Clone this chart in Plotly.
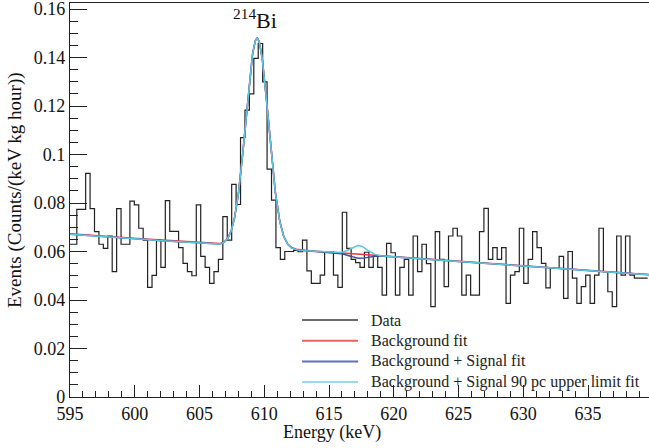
import numpy as np
import plotly.graph_objects as go

# ---- data: histogram (bin width ~0.3417 keV) ----
bin_width = 0.3417
first_edge = 594.842
counts = [
    0.063, 0.063, 0.0774, 0.0774, 0.0922, 0.0777, 0.0682, 0.063, 0.0613, 0.0664,
    0.0517, 0.0777, 0.063, 0.063, 0.0808, 0.0792, 0.0696, 0.0647, 0.0452, 0.0502,
    0.0647, 0.0535, 0.081, 0.0683, 0.0683, 0.0616, 0.0551, 0.0517, 0.05, 0.0792,
    0.058, 0.0535, 0.0469, 0.0517, 0.0568, 0.0744, 0.0647, 0.0877, 0.0794, 0.107,
    0.1183, 0.125, 0.1397, 0.1458, 0.130, 0.094, 0.0812, 0.0616, 0.0568, 0.060,
    0.060, 0.0605, 0.0599, 0.0647, 0.052, 0.0469, 0.0469, 0.0503, 0.0599, 0.0599,
    0.0503, 0.0452, 0.0762, 0.0613, 0.0568, 0.0554, 0.0535, 0.0597, 0.0535, 0.058,
    0.0535, 0.042, 0.0634, 0.0595, 0.042, 0.0535, 0.0568, 0.042, 0.0664, 0.0517,
    0.063, 0.055, 0.0373, 0.0682, 0.0568, 0.0455, 0.0664, 0.0696, 0.0664, 0.042,
    0.0503, 0.042, 0.042, 0.0682, 0.0778, 0.0568, 0.0616, 0.0568, 0.0616, 0.0386,
    0.0503, 0.0517, 0.0696, 0.0469, 0.0568, 0.0682, 0.0616, 0.0551, 0.045, 0.053,
    0.053, 0.058, 0.0407, 0.060, 0.049, 0.0386, 0.0455, 0.0503, 0.0386, 0.0503,
    0.0696, 0.0517, 0.0434, 0.0373, 0.0664, 0.0503, 0.0664, 0.0503, 0.049, 0.049,
    0.049,
]

# ---- fit parameters ----
bkg_p0, bkg_p1 = 0.0671, -0.000373          # linear background (value at 595 keV, slope)
bkg_only_p0, bkg_only_p1 = 0.0673, -0.000376
bi_amp, bi_mean, bi_sigma = 0.0862, 609.45, 0.87   # 214Bi peak
sig_mean, sig_sigma = 617.3, 0.62
sig_amp_fit = -0.0016
sig_amp_ul = 0.0037

legend_names = ["Data", "Background fit", "Background + Signal fit",
                "Background + Signal 90 pc upper limit fit"]
colors = ["#222222", "#e8383d", "#3b4ea0", "#5fc6dc"]
legend_colors = ["#6a6a6a", "#f06060", "#6070b8", "#98dde8"]

x_min, x_max = 595.0, 639.71
y_min, y_max = 0.0, 0.1625

edges = first_edge + bin_width * np.arange(len(counts) + 1)
xs = list(edges)
ys = list(counts) + [counts[-1]]

E = np.linspace(x_min, x_max + 0.3, 1200)
bkg = bkg_p0 + bkg_p1 * (E - 595.0)
bkg_only = bkg_only_p0 + bkg_only_p1 * (E - 595.0)
bi = bi_amp * np.exp(-0.5 * ((E - bi_mean) / bi_sigma) ** 2)
sig_fit = sig_amp_fit * np.exp(-0.5 * ((E - sig_mean) / sig_sigma) ** 2)
sig_ul = sig_amp_ul * np.exp(-0.5 * ((E - sig_mean) / sig_sigma) ** 2)

fig = go.Figure()
fig.add_trace(go.Scatter(x=xs, y=ys, mode="lines", line=dict(shape="hv", color=colors[0], width=1.2),
                         name=legend_names[0]))
fig.add_trace(go.Scatter(x=E, y=bkg_only + bi, mode="lines", line=dict(color=colors[1], width=1.5),
                         name=legend_names[1]))
fig.add_trace(go.Scatter(x=E, y=bkg + bi + sig_fit, mode="lines", line=dict(color=colors[2], width=1.5),
                         name=legend_names[2]))
fig.add_trace(go.Scatter(x=E, y=bkg + bi + sig_ul, mode="lines", line=dict(color=colors[3], width=1.5),
                         name=legend_names[3]))

font_family = "Liberation Serif"
L, T, B = 70, 3, 51
pw, ph = 649 - L, 448 - T - B


def px_x(px):
    return (px - L) / pw


def px_y(py):
    return (448 - B - py) / ph


# legend drawn by hand (ROOT TLegend look)
shapes = []
annotations = []
leg_top, leg_step = 320, 20.7
for i, (name, col) in enumerate(zip(legend_names, legend_colors)):
    yy = px_y(leg_top + i * leg_step)
    shapes.append(dict(type="line", xref="paper", yref="paper", x0=px_x(302), x1=px_x(358),
                       y0=yy, y1=yy, line=dict(color=col, width=2)))
    annotations.append(dict(text=name, x=px_x(369), y=yy, xref="paper", yref="paper",
                            xanchor="left", yanchor="middle", showarrow=False,
                            font=dict(size=16, family=font_family, color="#222222")))

annotations += [
    dict(text="<sup>214</sup>Bi", x=609.3, y=0.1495, xref="x", yref="y", xanchor="center",
         yanchor="bottom", showarrow=False, font=dict(size=22, family=font_family)),
    dict(text="Energy (keV)", x=px_x(332), y=px_y(432), xref="paper", yref="paper",
         xanchor="center", yanchor="middle", showarrow=False,
         font=dict(size=18, family=font_family)),
    dict(text="Events (Counts/(keV kg hour))", x=px_x(15), y=px_y(190), xref="paper", yref="paper",
         xanchor="center", yanchor="middle", textangle=-90, showarrow=False,
         font=dict(size=19, family=font_family)),
]

fig.update_layout(
    width=649, height=448,
    margin=dict(l=L, r=0, t=T, b=B),
    paper_bgcolor="white", plot_bgcolor="white",
    font=dict(family=font_family, size=18, color="#111111"),
    showlegend=False,
    xaxis=dict(range=[x_min, x_max], showgrid=False, zeroline=False, showline=True, mirror=True,
               linecolor="#222222", linewidth=1.2, ticks="inside", ticklen=12, tickcolor="#222222",
               dtick=5, tick0=595, tickfont=dict(size=18), ticklabeloverflow="allow",
               minor=dict(ticks="inside", ticklen=6, dtick=1, tickcolor="#222222", showgrid=False)),
    yaxis=dict(range=[y_min, y_max], showgrid=False, zeroline=False, showline=True, mirror=False,
               linecolor="#222222", linewidth=1.2, ticks="inside", ticklen=17, tickcolor="#222222",
               dtick=0.02, tick0=0, tickfont=dict(size=18), ticklabeloverflow="allow",
               minor=dict(ticks="inside", ticklen=8, dtick=0.005, tickcolor="#222222", showgrid=False)),
    shapes=shapes,
    annotations=annotations,
)

fig.write_html("out.html")
